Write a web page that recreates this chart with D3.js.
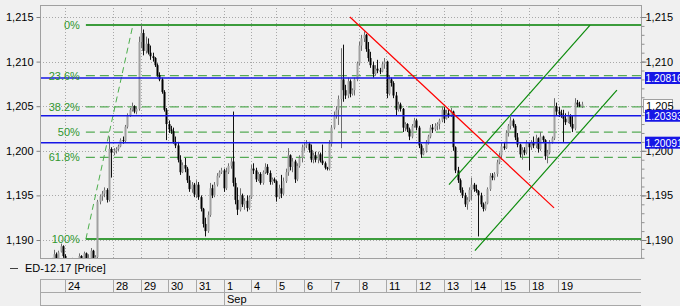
<!DOCTYPE html>
<html><head><meta charset="utf-8">
<script src="https://cdn.jsdelivr.net/npm/d3@7"></script>
<style>
html,body{margin:0;padding:0;background:#f0f0f0;}
svg{display:block;font-family:"Liberation Sans",Arial,sans-serif;}
</style></head><body>
<svg id="c" width="680" height="306"></svg>
<script>
// ---------- DATA ----------
const firstSlot = 5;               // slot index of first candle (2-hour bars)
const slotCount = 262;             // slots visible across the plot
const candles = [                  // [open, high, low, close]
[1.1876,1.1880,1.1872,1.1878],[1.1878,1.1889,1.1877,1.1884],[1.1884,1.1886,1.1876,1.1879],[1.1879,1.1888,1.1875,1.1886],
[1.1887,1.1896,1.1886,1.1893],[1.1893,1.1894,1.1880,1.1882],[1.1882,1.1884,1.1870,1.1874],[1.1874,1.1878,1.1868,1.1872],
[1.1872,1.1876,1.1866,1.1870],[1.1870,1.1880,1.1868,1.1878],[1.1878,1.1879,1.1870,1.1873],[1.1873,1.1878,1.1868,1.1876],
[1.1876,1.1885,1.1874,1.1882],[1.1882,1.1883,1.1872,1.1875],[1.1875,1.1887,1.1873,1.1885],[1.1885,1.1886,1.1874,1.1877],
[1.1877,1.1884,1.1872,1.1880],[1.1880,1.1891,1.1876,1.1888],[1.1888,1.1889,1.1874,1.1878],[1.1878,1.1883,1.1872,1.1881],
[1.1881,1.1945,1.1876,1.1943],[1.1943,1.1951,1.1940,1.1949],[1.1949,1.1955,1.1944,1.1952],[1.1952,1.1959,1.1948,1.1956],
[1.1956,1.1958,1.1942,1.1945],[1.1945,1.2016,1.1943,1.2002],[1.2002,1.2004,1.1970,1.1998],
// Aug 28
[1.1998,1.2003,1.1995,1.2000],[1.2000,1.2004,1.1997,1.2002],[1.2002,1.2007,1.2000,1.2005],[1.2005,1.2014,1.2004,1.2012],
[1.2012,1.2016,1.2008,1.2011],[1.2011,1.2029,1.2009,1.2027],[1.2027,1.2042,1.2025,1.2040],[1.2040,1.2048,1.2038,1.2046],
[1.2046,1.2054,1.2044,1.2050],[1.2050,1.2051,1.2042,1.2044],[1.2044,1.2049,1.2041,1.2047],[1.2047,1.2128,1.2045,1.2122],
// Aug 29
[1.2122,1.2141,1.2115,1.2132],[1.2132,1.2136,1.2107,1.2112],[1.2112,1.2128,1.2109,1.2120],[1.2120,1.2126,1.2108,1.2110],
[1.2110,1.2118,1.2102,1.2106],[1.2106,1.2110,1.2100,1.2104],[1.2104,1.2105,1.2094,1.2096],[1.2096,1.2098,1.2083,1.2085],
[1.2085,1.2088,1.2078,1.2080],[1.2080,1.2082,1.2064,1.2066],[1.2066,1.2068,1.2044,1.2046],[1.2046,1.2048,1.2012,1.2030],
// Aug 30
[1.2030,1.2034,1.2020,1.2024],[1.2024,1.2028,1.2019,1.2022],[1.2022,1.2026,1.2008,1.2010],[1.2010,1.2016,1.2003,1.2006],
[1.2006,1.2010,1.1987,1.1990],[1.1990,1.1995,1.1973,1.1976],[1.1976,1.1987,1.1975,1.1984],[1.1984,1.1992,1.1976,1.1980],
[1.1980,1.1982,1.1964,1.1967],[1.1967,1.1972,1.1954,1.1957],[1.1957,1.1965,1.1953,1.1962],[1.1962,1.1964,1.1948,1.1951],
// Aug 31
[1.1951,1.1967,1.1947,1.1962],[1.1962,1.1965,1.1945,1.1948],[1.1948,1.1950,1.1932,1.1935],[1.1935,1.1936,1.1914,1.1918],
[1.1918,1.1925,1.1904,1.1910],[1.1910,1.1932,1.1908,1.1928],[1.1928,1.1964,1.1926,1.1958],[1.1958,1.1962,1.1947,1.1950],
[1.1950,1.1965,1.1948,1.1962],[1.1962,1.1975,1.1960,1.1972],[1.1972,1.1978,1.1970,1.1976],[1.1976,1.1981,1.1974,1.1978],
// Sep 1
[1.1978,1.1980,1.1954,1.1958],[1.1958,1.1981,1.1956,1.1976],[1.1976,1.1986,1.1974,1.1983],[1.1983,1.1992,1.1980,1.1988],
[1.1988,1.2044,1.1960,1.1964],[1.1964,1.1970,1.1940,1.1945],[1.1945,1.1959,1.1928,1.1934],[1.1934,1.1958,1.1932,1.1950],
[1.1950,1.1952,1.1937,1.1940],[1.1940,1.1947,1.1934,1.1944],[1.1944,1.1950,1.1932,1.1936],[1.1936,1.1950,1.1934,1.1948],
// Sep 4
[1.1948,1.1984,1.1946,1.1980],[1.1980,1.1986,1.1974,1.1978],[1.1978,1.1981,1.1965,1.1968],[1.1968,1.1976,1.1966,1.1974],
[1.1974,1.1976,1.1962,1.1964],[1.1964,1.1978,1.1962,1.1976],[1.1976,1.1986,1.1974,1.1982],[1.1982,1.1985,1.1973,1.1975],
[1.1975,1.1978,1.1962,1.1965],[1.1965,1.1970,1.1962,1.1968],[1.1968,1.1970,1.1964,1.1966],
// Sep 5
[1.1966,1.1967,1.1943,1.1948],[1.1948,1.1962,1.1946,1.1958],[1.1958,1.1973,1.1947,1.1952],[1.1952,1.1970,1.1950,1.1966],
[1.1966,1.1980,1.1964,1.1976],[1.1976,1.2003,1.1972,1.1995],[1.1995,1.1996,1.1978,1.1982],[1.1982,1.1992,1.1976,1.1988],
[1.1988,1.1990,1.1964,1.1968],[1.1968,1.1986,1.1966,1.1983],[1.1983,1.1995,1.1981,1.1992],[1.1992,1.2007,1.1987,1.2004],
// Sep 6
[1.2004,1.2010,1.2000,1.2006],[1.2006,1.2012,1.2003,1.2008],[1.2008,1.2010,1.1998,1.2001],[1.2001,1.2007,1.1987,1.1990],
[1.1990,1.1998,1.1986,1.1995],[1.1995,1.1999,1.1987,1.1990],[1.1990,1.1999,1.1986,1.1996],[1.1996,1.1998,1.1987,1.1989],
[1.1989,1.2007,1.1984,1.1986],[1.1986,1.1988,1.1979,1.1981],[1.1981,1.1982,1.1978,1.1980],[1.1980,1.2012,1.1978,1.2008],
// Sep 7
[1.2008,1.2029,1.2005,1.2026],[1.2026,1.2044,1.2024,1.2040],[1.2040,1.2050,1.2036,1.2046],[1.2046,1.2062,1.2029,1.2058],
[1.2058,1.2115,1.2003,1.2080],[1.2080,1.2119,1.2055,1.2068],[1.2068,1.2074,1.2058,1.2062],[1.2062,1.2082,1.2059,1.2078],
[1.2078,1.2080,1.2060,1.2064],[1.2064,1.2070,1.2062,1.2068],[1.2068,1.2082,1.2062,1.2080],[1.2080,1.2100,1.2078,1.2098],
// Sep 8
[1.2098,1.2122,1.2096,1.2118],[1.2118,1.2130,1.2112,1.2126],[1.2126,1.2134,1.2122,1.2130],[1.2130,1.2131,1.2111,1.2114],
[1.2114,1.2122,1.2100,1.2104],[1.2104,1.2111,1.2093,1.2096],[1.2096,1.2100,1.2082,1.2086],[1.2086,1.2096,1.2084,1.2092],
[1.2092,1.2102,1.2087,1.2090],[1.2090,1.2093,1.2086,1.2089],[1.2089,1.2100,1.2088,1.2097],[1.2097,1.2104,1.2092,1.2100],
// Sep 11
[1.2100,1.2101,1.2059,1.2064],[1.2064,1.2085,1.2062,1.2080],[1.2080,1.2082,1.2072,1.2076],[1.2076,1.2078,1.2059,1.2062],
[1.2062,1.2066,1.2040,1.2046],[1.2046,1.2055,1.2044,1.2052],[1.2052,1.2054,1.2044,1.2047],[1.2047,1.2048,1.2021,1.2026],
[1.2026,1.2032,1.2022,1.2030],[1.2030,1.2031,1.2021,1.2024],[1.2024,1.2026,1.2012,1.2016],[1.2016,1.2030,1.2014,1.2028],
[1.2028,1.2037,1.2026,1.2034],
// Sep 12
[1.2034,1.2036,1.2023,1.2026],[1.2026,1.2028,1.2003,1.2006],[1.2006,1.2008,1.1992,1.1996],[1.1996,1.2003,1.1995,1.2000],
[1.2000,1.2012,1.1998,1.2010],[1.2010,1.2018,1.2007,1.2016],[1.2016,1.2029,1.2014,1.2026],[1.2026,1.2030,1.2020,1.2024],
[1.2024,1.2031,1.2022,1.2028],[1.2028,1.2032,1.2023,1.2030],[1.2030,1.2036,1.2024,1.2034],[1.2034,1.2049,1.2032,1.2046],
// Sep 13
[1.2046,1.2049,1.2031,1.2036],[1.2036,1.2046,1.2035,1.2042],[1.2042,1.2046,1.2037,1.2040],[1.2040,1.2048,1.2038,1.2044],
[1.2044,1.2045,1.2000,1.2004],[1.2004,1.2005,1.1975,1.1978],[1.1978,1.1982,1.1964,1.1967],[1.1967,1.1969,1.1953,1.1956],
[1.1956,1.1959,1.1947,1.1950],[1.1950,1.1953,1.1937,1.1940],[1.1940,1.1948,1.1934,1.1945],[1.1945,1.1959,1.1943,1.1956],
// Sep 14
[1.1956,1.1970,1.1945,1.1962],[1.1962,1.1964,1.1954,1.1957],[1.1957,1.1962,1.1953,1.1955],[1.1955,1.1956,1.1904,1.1950],
[1.1950,1.1953,1.1937,1.1940],[1.1940,1.1942,1.1932,1.1935],[1.1935,1.1943,1.1933,1.1941],[1.1941,1.1959,1.1940,1.1957],
[1.1957,1.1975,1.1955,1.1972],[1.1972,1.1975,1.1967,1.1970],[1.1970,1.1976,1.1967,1.1974],[1.1974,1.1990,1.1971,1.1987],
[1.1987,1.1998,1.1985,1.1995],
// Sep 15
[1.1995,1.2009,1.1990,1.2005],[1.2005,1.2010,1.2001,1.2003],[1.2003,1.2023,1.2002,1.2020],[1.2020,1.2030,1.2016,1.2028],
[1.2028,1.2038,1.2024,1.2034],[1.2034,1.2036,1.2026,1.2028],[1.2028,1.2030,1.2012,1.2015],[1.2015,1.2020,1.2004,1.2007],
[1.2007,1.2008,1.1993,1.1996],[1.1996,1.2004,1.1990,1.2001],[1.2001,1.2004,1.1995,1.1998],[1.1998,1.2012,1.1996,1.2009],
// Sep 18
[1.2009,1.2010,1.1978,1.2004],[1.2004,1.2012,1.2001,1.2010],[1.2010,1.2016,1.2003,1.2006],[1.2006,1.2018,1.2003,1.2014],
[1.2014,1.2015,1.1998,1.2002],[1.2002,1.2021,1.2000,1.2016],[1.2016,1.2017,1.2009,1.2012],[1.2012,1.2013,1.1990,1.1994],
[1.1994,1.2001,1.1986,1.1998],[1.1998,1.2012,1.1996,1.2010],[1.2010,1.2016,1.2008,1.2014],[1.2014,1.2059,1.2012,1.2050],
[1.2050,1.2054,1.2040,1.2044],
// Sep 19
[1.2044,1.2049,1.2038,1.2042],[1.2042,1.2046,1.2037,1.2040],[1.2040,1.2046,1.2010,1.2036],[1.2036,1.2042,1.2029,1.2032],
[1.2032,1.2044,1.2031,1.2040],[1.2040,1.2041,1.2027,1.2030],[1.2030,1.2040,1.2021,1.2025],[1.2025,1.2059,1.2023,1.2054],
[1.2054,1.2057,1.2049,1.2052],[1.2052,1.2055,1.2049,1.2050],[1.2050,1.2055,1.2048,1.2052]
];
const dayStarts = [0, 11, 32, 44, 56, 68, 80, 92, 103, 115, 127, 139, 151, 164, 176, 188, 201, 213, 226];
const dayLabels = ["", "24", "28", "29", "30", "31", "1", "4", "5", "6", "7", "8", "11", "12", "13", "14", "15", "18", "19"];
const monthStarts = [0, 80];
const monthLabels = ["", "Sep"];
const yTicks = [1.190, 1.195, 1.200, 1.205, 1.210, 1.215];
const fibAnchorLow = [20, 1.1901];     // [slot, price]
const fibAnchorHigh = [40.5, 1.2141];
const fibRatios = [0, 0.236, 0.382, 0.5, 0.618, 1];
const fibLabels = ["0%", "23.6%", "38.2%", "50%", "61.8%", "100%"];
const blueLevels = [1.20816, 1.20393, 1.20091];
const blueLabels = ["1.20816", "1.20393", "1.20091"];
const lastPrice = 1.2050;
const lastPriceLabel = "1,205";
const redLine = [[135.1, 1.2150], [224.1, 1.1936]];
const channelUpper = [[178.3, 1.1962], [239.8, 1.2141]];
const channelLower = [[189.6, 1.1888], [251.5, 1.2068]];
const legendText = "ED-12.17 [Price]";

// ---------- LAYOUT ----------
const L = 40, R = 641, T = 5, B = 258;
const svg = d3.select("#c");
const x = d3.scaleLinear().domain([0, slotCount]).range([L, R]);
const y = d3.scaleLinear().domain([1.19, 1.215]).range([240, 17]);
const fmt = v => d3.format(".3f")(v).replace(".", ",");

svg.append("rect").attr("width", 680).attr("height", 306).attr("fill", "#f0f0f0");
svg.append("defs").append("clipPath").attr("id", "pc")
  .append("rect").attr("x", L).attr("y", T).attr("width", R - L).attr("height", B - T);

const plot = svg.append("g").attr("clip-path", "url(#pc)");

// grid
const gridX = dayStarts.slice(1);
plot.selectAll(".gx").data(gridX).join("line")
  .attr("x1", d => Math.round(x(d)) + 0.5).attr("x2", d => Math.round(x(d)) + 0.5)
  .attr("y1", T).attr("y2", B)
  .attr("stroke", "#a8a8a8").attr("stroke-dasharray", "1,2");
plot.selectAll(".gy").data(yTicks).join("line")
  .attr("x1", L).attr("x2", R)
  .attr("y1", d => Math.round(y(d)) + 0.5).attr("y2", d => Math.round(y(d)) + 0.5)
  .attr("stroke", "#a8a8a8").attr("stroke-dasharray", "1,2");

// fibonacci
const fibLevels = fibRatios.map(r => fibAnchorHigh[1] - r * (fibAnchorHigh[1] - fibAnchorLow[1]));
plot.append("line")
  .attr("x1", x(fibAnchorLow[0])).attr("y1", y(fibAnchorLow[1]))
  .attr("x2", x(fibAnchorHigh[0])).attr("y2", y(fibAnchorHigh[1]))
  .attr("stroke", "#4caf4c").attr("stroke-width", 1).attr("stroke-dasharray", "6,4");
plot.selectAll(".fib").data(fibLevels).join("line")
  .attr("x1", x(fibAnchorLow[0])).attr("x2", R)
  .attr("y1", d => y(d)).attr("y2", d => y(d))
  .attr("stroke", (d, i) => (i === 0 || i === fibLevels.length - 1) ? "#3c9c3c" : "#55aa55")
  .attr("stroke-width", (d, i) => (i === 0 || i === fibLevels.length - 1) ? 2 : 1.2)
  .attr("stroke-dasharray", (d, i) => (i === 0 || i === fibLevels.length - 1) ? null : "9,5");
svg.selectAll(".fibt").data(fibLevels).join("text")
  .attr("x", x(fibAnchorLow[0]) - 6).attr("y", d => y(d) + 4)
  .attr("text-anchor", "end").attr("font-size", 11).attr("fill", "#2f962f")
  .text((d, i) => fibLabels[i]);

// candles
const cg = plot.append("g");
candles.forEach((c, i) => {
  const s = firstSlot + i;
  const cx = Math.round(x(s + 0.5));
  const up = c[3] >= c[0];
  cg.append("rect").attr("x", cx - 1).attr("width", 1)
    .attr("y", y(c[1])).attr("height", Math.max(1, y(c[2]) - y(c[1])))
    .attr("fill", up ? "#6e6e6e" : "#111");
  const top = y(Math.max(c[0], c[3])), bot = y(Math.min(c[0], c[3]));
  cg.append("rect").attr("x", cx - 1.5).attr("width", 2)
    .attr("y", top).attr("height", Math.max(1, bot - top))
    .attr("fill", up ? "#a0a0a0" : "#000");
});

// blue levels
plot.selectAll(".bl").data(blueLevels).join("line")
  .attr("x1", L).attr("x2", R)
  .attr("y1", d => y(d)).attr("y2", d => y(d))
  .attr("stroke", "#1616e6").attr("stroke-width", 1.6);

// trend lines
const line = d3.line().x(d => x(d[0])).y(d => y(d[1]));
plot.append("path").attr("d", line(redLine)).attr("stroke", "#ff0000").attr("stroke-width", 1.2).attr("fill", "none");
plot.append("path").attr("d", line(channelUpper)).attr("stroke", "#0a8a0a").attr("stroke-width", 1.2).attr("fill", "none");
plot.append("path").attr("d", line(channelLower)).attr("stroke", "#0a8a0a").attr("stroke-width", 1.2).attr("fill", "none");

// frame
svg.append("rect").attr("x", L + 0.5).attr("y", T + 0.5).attr("width", R - L).attr("height", B - T)
  .attr("fill", "none").attr("stroke", "#a0a0a0");

// left axis
const yLeft = d3.axisLeft(y).tickValues(yTicks).tickSize(4).tickFormat(fmt);
const gl = svg.append("g").attr("transform", `translate(${L + 0.5},0)`).call(yLeft);
gl.select(".domain").remove();
gl.selectAll("line").attr("stroke", "#808080");
gl.selectAll("text").attr("font-size", 11).attr("fill", "#000").attr("font-family", "Liberation Sans, Arial, sans-serif");

// right axis (minor ticks)
const minor = d3.range(1188, 1216).map(v => v / 1000);
const yRightMinor = d3.axisRight(y).tickValues(minor).tickSize(3).tickFormat("");
const grm = svg.append("g").attr("transform", `translate(${R + 0.5},0)`).call(yRightMinor);
grm.select(".domain").remove();
grm.selectAll("line").attr("stroke", "#909090");
const yRight = d3.axisRight(y).tickValues(yTicks).tickSize(5).tickFormat(fmt);
const gr = svg.append("g").attr("transform", `translate(${R + 0.5},0)`).call(yRight);
gr.select(".domain").remove();
gr.selectAll("line").attr("stroke", "#808080");
gr.selectAll("text").attr("x", 4).attr("font-size", 11).attr("fill", "#000").attr("font-family", "Liberation Sans, Arial, sans-serif");

// last price box
svg.append("rect").attr("x", R + 2.5).attr("y", Math.round(y(lastPrice)) - 6.5).attr("width", 29).attr("height", 13)
  .attr("fill", "#fff").attr("stroke", "#a0a0a0");
svg.append("text").attr("x", R + 5).attr("y", y(lastPrice) + 4).attr("font-size", 11).text(lastPriceLabel);

// blue level labels
blueLevels.forEach((v, i) => {
  svg.append("rect").attr("x", R + 4).attr("y", y(v) - 6).attr("width", 40).attr("height", 12).attr("fill", "#1616e6");
  svg.append("text").attr("x", R + 4.5).attr("y", y(v) + 4).attr("font-size", 10.3).attr("fill", "#fff").text(blueLabels[i]);
});

// legend
svg.append("line").attr("x1", 10).attr("x2", 18).attr("y1", 268.5).attr("y2", 268.5).attr("stroke", "#404040");
svg.append("text").attr("x", 25).attr("y", 272).attr("font-size", 11).attr("fill", "#000").text(legendText);

// time axis table
const ta = svg.append("g");
[279, 292, 305].forEach(yy => ta.append("line").attr("x1", L).attr("x2", R).attr("y1", yy + 0.5).attr("y2", yy + 0.5).attr("stroke", "#a8a8a8"));
ta.selectAll(".dv").data(dayStarts).join("line")
  .attr("x1", d => Math.round(x(d)) + 0.5).attr("x2", d => Math.round(x(d)) + 0.5)
  .attr("y1", 279).attr("y2", 292).attr("stroke", "#a8a8a8");
ta.selectAll(".dt").data(dayStarts).join("text")
  .attr("x", d => Math.round(x(d)) + 3).attr("y", 289.5).attr("font-size", 11).attr("fill", "#000")
  .text((d, i) => dayLabels[i]);
ta.selectAll(".mv").data(monthStarts).join("line")
  .attr("x1", d => Math.round(x(d)) + 0.5).attr("x2", d => Math.round(x(d)) + 0.5)
  .attr("y1", 292).attr("y2", 305).attr("stroke", "#a8a8a8");
ta.selectAll(".mt").data(monthStarts).join("text")
  .attr("x", d => Math.round(x(d)) + 3).attr("y", 302.5).attr("font-size", 11).attr("fill", "#000")
  .text((d, i) => monthLabels[i]);
</script>
</body></html>
